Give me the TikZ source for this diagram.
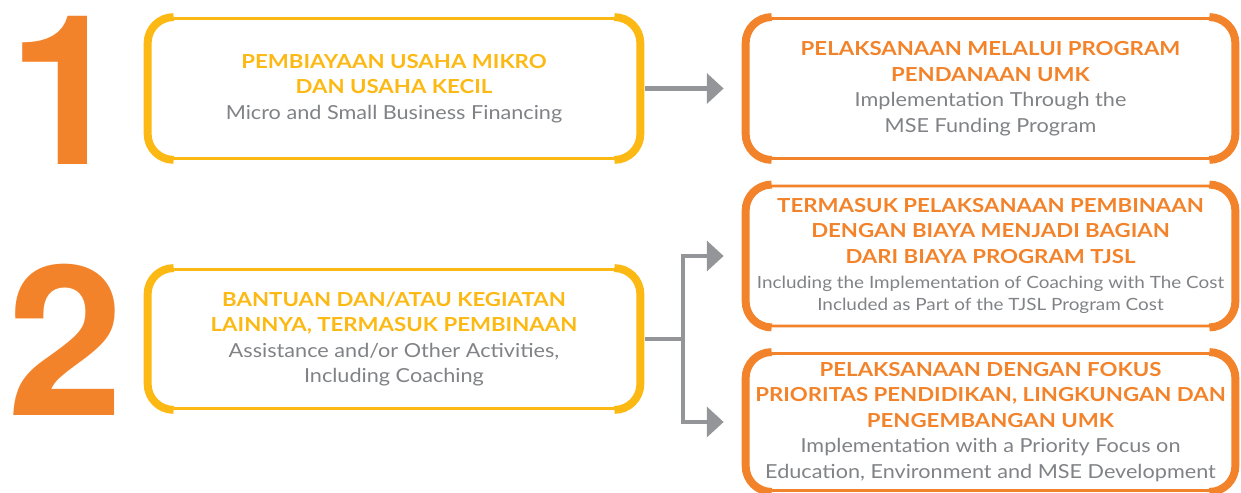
\documentclass[tikz,border=0pt]{standalone}
\usepackage{fontspec}
\setmainfont{Lato}[FakeStretch=1.12, BoldFeatures={FakeStretch=1.15}]
\newfontfamily\numfont{TeX Gyre Heros}
\usepackage{xcolor}
\usetikzlibrary{arrows.meta}

\definecolor{tjslorange}{HTML}{F3832A}
\definecolor{tjslyellow}{HTML}{FDB913}
\definecolor{tjslgrey}{HTML}{808285}
\definecolor{tjslarrow}{HTML}{939598}

\newcommand{\ylw}[1]{{\color{tjslyellow}\bfseries #1}}
\newcommand{\org}[1]{{\color{tjslorange}\bfseries #1}}

\begin{document}
\begin{tikzpicture}[x=0.02cm, y=-0.02cm,
        box/.style={draw=#1, line width=1.6pt, rounded corners=0.52cm,
            minimum width=9.8cm, minimum height=2.8cm, inner sep=0pt,
            align=center, text=tjslgrey, font=\fontsize{11}{14.5}\selectfont},
        num/.style={text=tjslorange, inner sep=0pt,
            font=\numfont\bfseries\fontsize{119}{119}\selectfont},
        flow/.style={draw=tjslarrow, line width=2.8pt,
            -{Triangle[length=9.6pt,width=17pt]},
            shorten <=0.1cm, shorten >=0.44cm}]
        \useasboundingbox (0,0) rectangle (1241,493);
        % Nomor besar
        \node[num, anchor=base] (one) at (67,165) {1};
        \node[num, anchor=base] (two) at (66,415) {2};
        % Kotak kiri
        \node[box=tjslyellow] (a1) at (394,88.5) {\ylw{PEMBIAYAAN USAHA MIKRO}\\
            \ylw{DAN USAHA KECIL}\\ Micro and Small Business Financing};
        \node[box=tjslyellow, minimum height=2.78cm] (a2) at (394,339) {\ylw{BANTUAN DAN/ATAU KEGIATAN}\\
            \ylw{LAINNYA, TERMASUK PEMBINAAN}\\ Assistance and/or Other Activities,\\ Including Coaching};
        % Kotak kanan
        \node[box=tjslorange, minimum width=9.74cm] (b1) at (990.5,88.5) {\org{PELAKSANAAN MELALUI PROGRAM}\\
            \org{PENDANAAN UMK}\\ Implementation Through the\\ MSE Funding Program};
        \node[box=tjslorange, minimum width=9.74cm] (b2) at (990.5,256) {\org{TERMASUK PELAKSANAAN PEMBINAAN}\\
            \org{DENGAN BIAYA MENJADI BAGIAN}\\ \org{DARI BIAYA PROGRAM TJSL}\\
            {\fontsize{9.6}{11}\selectfont Including the Implementation of Coaching with The Cost}\\[-2pt]
            {\fontsize{9.6}{11}\selectfont Included as Part of the TJSL Program Cost}};
        \node[box=tjslorange, minimum width=9.74cm, minimum height=2.74cm] (b3) at (990.5,422) {\org{PELAKSANAAN DENGAN FOKUS}\\
            \org{PRIORITAS PENDIDIKAN, LINGKUNGAN DAN}\\ \org{PENGEMBANGAN UMK}\\
            Implementation with a Priority Focus on\\ Education, Environment and MSE Development};
        % Sisi tebal kotak
        \foreach \b/\c in {a1/tjslyellow, a2/tjslyellow, b1/tjslorange, b2/tjslorange, b3/tjslorange}{
            \draw[\c, line width=4.5pt, rounded corners=0.52cm] ([xshift=0.52cm]\b.north west)
                -- (\b.north west) -- (\b.south west) -- ([xshift=0.52cm]\b.south west);
            \draw[\c, line width=4.5pt, rounded corners=0.52cm] ([xshift=-0.52cm]\b.north east)
                -- (\b.north east) -- (\b.south east) -- ([xshift=-0.52cm]\b.south east);
        }
        % Panah
        \coordinate (fork) at (683,339);
        \draw[flow] (a1) -- (b1);
        \draw[flow] (a2) -- (fork) |- (b2);
        \draw[flow] (a2) -- (fork) |- (b3);
    \end{tikzpicture}
\end{document}
